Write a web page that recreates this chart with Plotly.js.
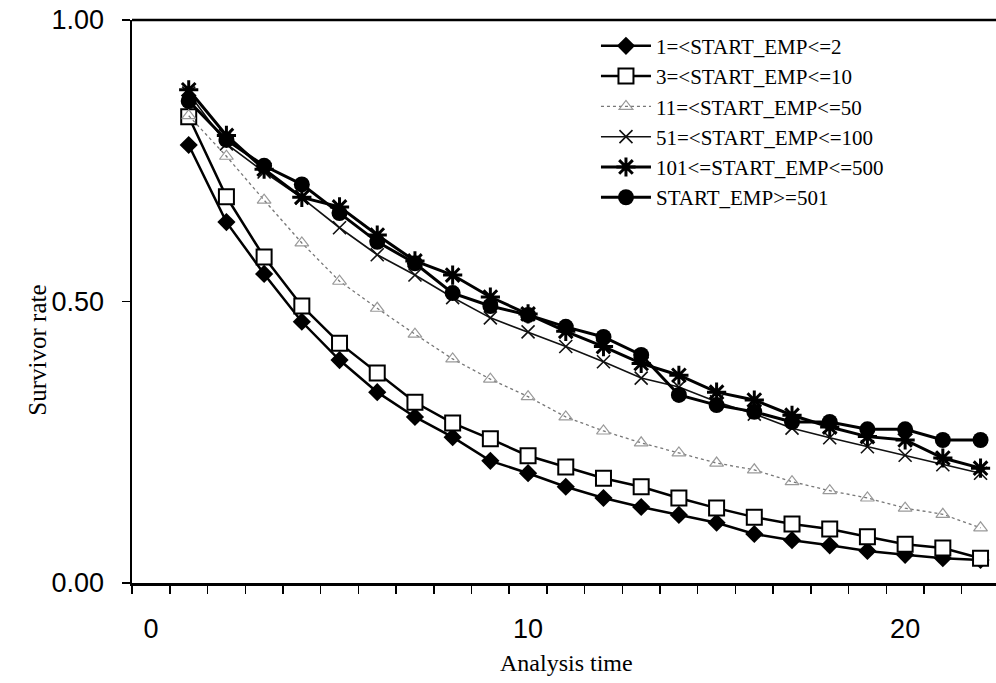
<!DOCTYPE html>
<html>
<head>
<meta charset="utf-8">
<script src="https://cdn.plot.ly/plotly-3.0.1.min.js"></script>
<style>html,body{margin:0;padding:0;background:#fff;}#chart{width:996px;height:683px;}</style>
</head>
<body>
<div id="chart"></div>
<script>
const times = [1,2,3,4,5,6,7,8,9,10,11,12,13,14,15,16,17,18,19,20,21,22];
const names = ["1=<START_EMP<=2","3=<START_EMP<=10","11=<START_EMP<=50","51=<START_EMP<=100","101<=START_EMP<=500","START_EMP>=501"];
const emp1to2    = [0.778,0.641,0.549,0.464,0.396,0.339,0.295,0.259,0.217,0.195,0.171,0.151,0.135,0.121,0.107,0.087,0.076,0.067,0.057,0.050,0.044,0.041];
const emp3to10   = [0.828,0.686,0.579,0.492,0.426,0.373,0.321,0.284,0.256,0.226,0.206,0.186,0.171,0.151,0.133,0.117,0.105,0.096,0.082,0.069,0.062,0.044];
const emp11to50  = [0.830,0.758,0.680,0.604,0.536,0.488,0.442,0.398,0.362,0.331,0.295,0.270,0.249,0.231,0.213,0.201,0.180,0.164,0.151,0.133,0.122,0.098];
const emp51to100 = [0.870,0.780,0.730,0.684,0.631,0.583,0.547,0.507,0.471,0.446,0.420,0.393,0.364,0.348,0.322,0.300,0.275,0.258,0.242,0.227,0.210,0.195];
const emp101to500= [0.876,0.795,0.735,0.685,0.668,0.618,0.572,0.547,0.508,0.478,0.447,0.420,0.390,0.369,0.339,0.325,0.298,0.277,0.260,0.254,0.222,0.204];
const emp501plus = [0.856,0.787,0.741,0.708,0.657,0.606,0.568,0.515,0.492,0.476,0.455,0.437,0.405,0.334,0.316,0.304,0.286,0.286,0.273,0.273,0.254,0.254];
const xTickVals = [0,10,20];
const yTickVals = [0,0.5,1];
const yTickText = ["0.00","0.50","1.00"];

const serif = 'Liberation Serif, Times New Roman, serif';
const sans = 'Liberation Sans, Arial, sans-serif';

const traces = [
  {x:times,y:emp1to2,name:names[0],mode:'lines+markers',line:{color:'#000',width:2.5},marker:{symbol:'diamond',size:14,color:'#000'}},
  {x:times,y:emp3to10,name:names[1],mode:'lines+markers',line:{color:'#000',width:2.5},marker:{symbol:'square',size:15,color:'#fff',line:{color:'#000',width:2}}},
  {x:times,y:emp11to50,name:names[2],mode:'lines+markers',line:{color:'#777',width:1.3,dash:'dot'},marker:{symbol:'triangle-up-open',size:12,color:'#999',line:{color:'#999',width:1.2}}},
  {x:times,y:emp51to100,name:names[3],mode:'lines+markers',line:{color:'#111',width:1.6},marker:{symbol:'x-thin-open',size:13,color:'#111',line:{color:'#111',width:1.6}}},
  {x:times,y:emp101to500,name:names[4],mode:'lines+markers',line:{color:'#000',width:3},marker:{symbol:'asterisk-open',size:16,color:'#000',line:{color:'#000',width:3}}},
  {x:times,y:emp501plus,name:names[5],mode:'lines+markers',line:{color:'#000',width:3},marker:{symbol:'circle',size:16,color:'#000'}}
];

const layout = {
  width:996,height:683,
  margin:{l:132,r:0,t:20,b:100},
  paper_bgcolor:'#fff',plot_bgcolor:'#fff',
  showlegend:true,
  legend:{x:0.537,y:0.99,xanchor:'left',yanchor:'top',bgcolor:'rgba(0,0,0,0)',
          font:{family:serif,size:21,color:'#000'},
          tracegroupgap:0,itemwidth:50},
  xaxis:{range:[-0.504,22.41],showgrid:false,zeroline:false,showline:true,linecolor:'#000',linewidth:2.5,
         tickvals:xTickVals,ticktext:xTickVals.map(String),ticks:'',ticklabelstandoff:20,
         minor:{tick0:0.5,dtick:1,ticks:'outside',ticklen:8,tickcolor:'#000',tickwidth:1.5,showgrid:false},
         tickfont:{family:sans,size:27,color:'#000'}},
  yaxis:{range:[0,1],showgrid:false,zeroline:false,showline:true,linecolor:'#000',linewidth:2.5,
         tickvals:yTickVals,ticktext:yTickText,ticks:'outside',ticklen:8,tickwidth:1.5,tickcolor:'#000',
         ticklabelstandoff:12,
         tickfont:{family:sans,size:27,color:'#000'}},
  annotations:[
    {text:'Survivor rate',xref:'paper',yref:'paper',x:-0.127,y:0.414,textangle:-90,showarrow:false,
     font:{family:serif,size:25,color:'#000'}},
    {text:'Analysis time',xref:'paper',yref:'paper',x:0.503,y:-0.142,yanchor:'middle',showarrow:false,
     font:{family:serif,size:24,color:'#000'}}
  ],
  shapes:[{type:'line',xref:'paper',yref:'paper',x0:0,x1:1,y0:1,y1:1,line:{color:'#000',width:2.5}}]
};
Plotly.newPlot('chart',traces,layout,{displayModeBar:false,staticPlot:true});
</script>
</body>
</html>
